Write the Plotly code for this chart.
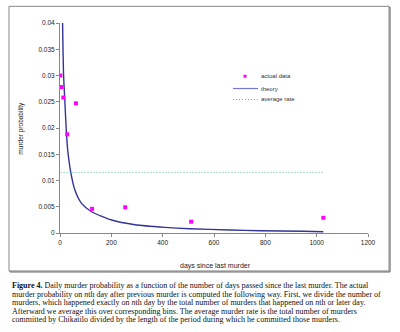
import plotly.graph_objects as go

# Data
days = [1, 5, 13, 28, 62, 125, 254, 511, 1026]
actual = [0.0300, 0.0278, 0.0258, 0.0188, 0.0247, 0.0046, 0.0049, 0.00215, 0.0029]

theory_x = [10, 14, 19, 24, 30, 42, 58, 84, 123, 201, 292, 409, 506, 662, 779, 948, 1026]
theory_y = [0.040, 0.030, 0.025, 0.020, 0.0158, 0.01155, 0.0082, 0.00565, 0.00405,
            0.00247, 0.00158, 0.00108, 0.00082, 0.00057, 0.00044, 0.00032, 0.00025]

avg_x = [2, 1026]
avg_y = [0.01155, 0.01155]

x_ticks = [0, 200, 400, 600, 800, 1000, 1200]
y_ticks = [0, 0.005, 0.01, 0.015, 0.02, 0.025, 0.03, 0.035, 0.04]

caption_lines = [
    "<b>Figure 4.</b> Daily murder probability as a function of the number of days passed since the last murder. The actual",
    "murder probability on <i>n</i>th day after previous murder is computed the following way. First, we divide the number of",
    "murders, which happened exactly on <i>n</i>th day by the total number of murders that happened on <i>n</i>th or later day.",
    "Afterward we average this over corresponding bins. The average murder rate is the total number of murders",
    "committed by Chikatilo divided by the length of the period during which he committed those murders.",
]

W, H = 400, 332
L, R, T, B = 60, 368, 22.7, 233.0


def px(x):
    return (x - L) / (R - L)


def py(y):
    return (B - y) / (B - T)


fig = go.Figure()
fig.add_trace(go.Scatter(x=theory_x, y=theory_y, mode="lines", name="theory",
                         line=dict(color="#33339a", width=1.4, shape="spline", smoothing=0.6),
                         showlegend=False))
fig.add_trace(go.Scatter(x=avg_x, y=avg_y, mode="lines", name="average rate",
                         line=dict(color="#55bb99", width=1, dash="1px,2px"), showlegend=False))
fig.add_trace(go.Scatter(x=days, y=actual, mode="markers", name="actual data",
                         marker=dict(symbol="square", size=4, color="#ff00ff"), showlegend=False))

axis_common = dict(showgrid=False, zeroline=False, showline=True, linecolor="#888888",
                   linewidth=1, ticks="outside", ticklen=3, tickcolor="#888888",
                   tickfont=dict(family="Liberation Sans, Arial", size=6.5, color="#222222"))

fig.update_xaxes(range=[0, 1200], tickvals=x_ticks, **axis_common)
fig.update_yaxes(range=[0, 0.04], tickvals=y_ticks,
                 ticktext=["0", "0.005", "0.01", "0.015", "0.02", "0.025", "0.03", "0.035", "0.04"],
                 **axis_common)

shapes = []
# outer frame with slight shadow
shapes.append(dict(type="rect", xref="paper", yref="paper",
                   x0=px(10), x1=px(390), y0=py(272), y1=py(7),
                   line=dict(color="#555555", width=1), layer="below"))
shapes.append(dict(type="rect", xref="paper", yref="paper",
                   x0=px(9), x1=px(389), y0=py(271), y1=py(6),
                   line=dict(color="#888888", width=1), fillcolor="white", layer="below"))
# legend samples
shapes.append(dict(type="rect", xref="paper", yref="paper",
                   x0=px(243.5), x1=px(246.5), y0=py(77.5), y1=py(74.5),
                   line=dict(width=0), fillcolor="#ff00ff"))
shapes.append(dict(type="line", xref="paper", yref="paper",
                   x0=px(233), x1=px(258), y0=py(88.3), y1=py(88.3),
                   line=dict(color="#7777cc", width=1.2)))
shapes.append(dict(type="line", xref="paper", yref="paper",
                   x0=px(233), x1=px(258), y0=py(99.3), y1=py(99.3),
                   line=dict(color="#55bb99", width=1, dash="1px,2px")))

ann = []
for txt, yy in [("actual data", 76), ("theory", 88.3), ("average rate", 99.3)]:
    ann.append(dict(text=txt, xref="paper", yref="paper", x=px(259), y=py(yy),
                    xanchor="left", yanchor="middle", showarrow=False,
                    font=dict(family="Liberation Sans, Arial", size=6, color="#333333")))
ann.append(dict(text="murder probability", xref="paper", yref="paper", x=px(21.5), y=py(128),
                textangle=-90, xanchor="center", yanchor="middle", showarrow=False,
                font=dict(family="Liberation Sans, Arial", size=6.5, color="#222222")))
ann.append(dict(text="days since last murder", xref="paper", yref="paper", x=px(215), y=py(266),
                xanchor="center", yanchor="middle", showarrow=False,
                font=dict(family="Liberation Sans, Arial", size=7, color="#222222")))
for i, line in enumerate(caption_lines):
    yy = 285.7 + i * 8.5
    ann.append(dict(text=line, xref="paper", yref="paper", x=px(10), y=py(yy),
                    xanchor="left", yanchor="middle", showarrow=False,
                    font=dict(family="Liberation Serif, Times New Roman", size=8.0, color="#111111")))

fig.update_layout(width=W, height=H, margin=dict(l=L, r=W - R, t=T, b=H - B),
                  paper_bgcolor="white", plot_bgcolor="rgba(0,0,0,0)",
                  shapes=shapes, annotations=ann, showlegend=False)

fig.write_html("out.html", config={"displayModeBar": False})
